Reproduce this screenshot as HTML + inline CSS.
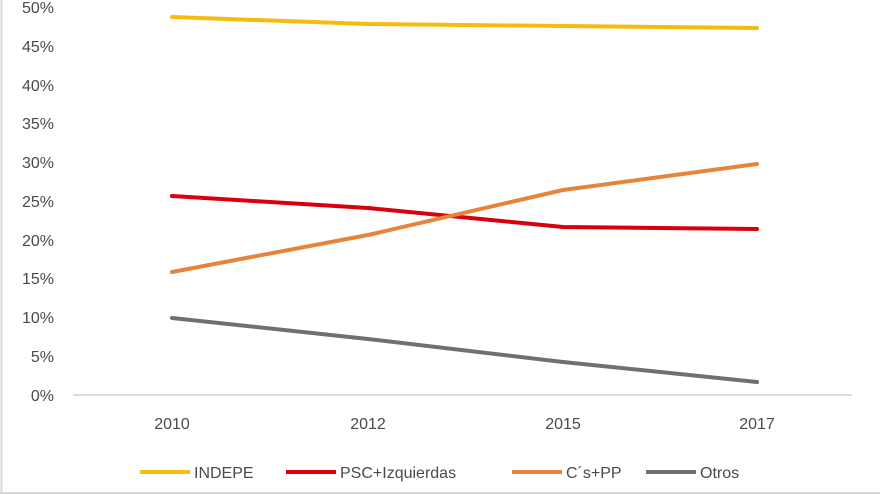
<!DOCTYPE html>
<html><head><style>body{margin:0;background:#fff}svg{display:block}</style></head><body>
<svg width="880" height="495" xmlns="http://www.w3.org/2000/svg" font-family="Liberation Sans, sans-serif">
<rect x="0" y="0" width="880" height="495" fill="#fff"/>
<line x1="1.5" y1="0" x2="1.5" y2="493" stroke="#d9d9d9" stroke-width="2"/>
<line x1="0" y1="493" x2="880" y2="493" stroke="#d9d9d9" stroke-width="2"/>
<line x1="73" y1="395" x2="852" y2="395" stroke="#d0d0d0" stroke-width="1.5"/>
<g font-size="16" fill="#4a4a4a" text-anchor="end">
<text x="54" y="401">0%</text><text x="54" y="362">5%</text><text x="54" y="323">10%</text>
<text x="54" y="284">15%</text><text x="54" y="246">20%</text><text x="54" y="207">25%</text>
<text x="54" y="168">30%</text><text x="54" y="129">35%</text><text x="54" y="91">40%</text>
<text x="54" y="52">45%</text><text x="54" y="13">50%</text>
</g>
<g font-size="16" fill="#4a4a4a" text-anchor="middle">
<text x="172" y="429">2010</text><text x="368" y="429">2012</text><text x="563" y="429">2015</text><text x="757" y="429">2017</text>
</g>
<g fill="none" stroke-width="4" stroke-linejoin="round" stroke-linecap="round">
<polyline stroke="#f2bd0f" points="172,17 368,24 563,26 757,28"/>
<polyline stroke="#d9000d" points="172,196 368,208 563,227 757,229"/>
<polyline stroke="#e8843a" points="172,272 368,235 563,190 757,164"/>
<polyline stroke="#707070" points="172,318 368,339 563,362 757,382"/>
</g>
<g stroke-width="4">
<line x1="140" y1="472" x2="190" y2="472" stroke="#f2bd0f"/>
<line x1="286" y1="472" x2="336" y2="472" stroke="#d9000d"/>
<line x1="512" y1="472" x2="562" y2="472" stroke="#e8843a"/>
<line x1="646" y1="472" x2="696" y2="472" stroke="#707070"/>
</g>
<g font-size="16" fill="#4a4a4a">
<text x="194" y="478">INDEPE</text><text x="340" y="478">PSC+Izquierdas</text>
<text x="566" y="478">C´s+PP</text><text x="700" y="478">Otros</text>
</g>
</svg>
</body></html>
